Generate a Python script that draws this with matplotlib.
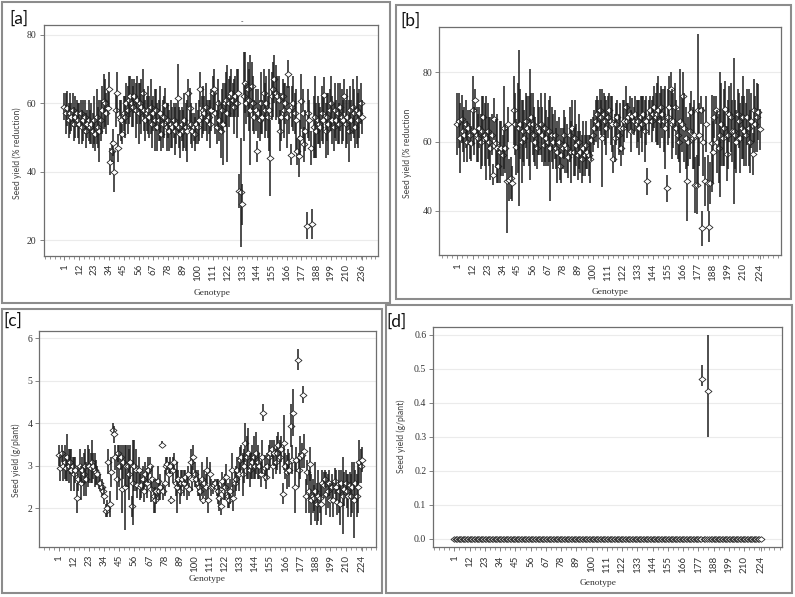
import matplotlib
matplotlib.use('Agg')
import matplotlib.pyplot as plt
from matplotlib.patches import Rectangle
from matplotlib.path import Path
from matplotlib.ticker import MultipleLocator, FormatStrFormatter

# ---------------- data ----------------
tick_labels_a = ['1', '12', '23', '34', '45', '56', '67', '78', '89', '100', '111', '122',
                 '133', '144', '155', '166', '177', '188', '199', '210', '236']
tick_labels_bcd = ['1', '12', '23', '34', '45', '56', '67', '78', '89', '100', '111', '122',
                   '133', '144', '155', '166', '177', '188', '199', '210', '224']

a_mean = [59, 57, 58.5, 55, 57, 56, 58, 54, 56, 57,
          55, 54, 57, 53, 55, 56, 52, 54, 55, 53,
          54, 52, 55, 51, 56, 53, 52, 55, 58, 60.5,
          60, 57, 58.7, 64, 43, 46, 48.5, 40, 58, 63,
          47, 56, 55, 51, 57, 56, 60, 58, 61, 62,
          60, 59, 62, 58, 61, 57, 60, 59, 63, 58,
          55, 57, 58, 56, 59, 54, 57, 55, 58, 53,
          55, 57, 51, 54, 56, 59.5, 53, 55, 52, 54,
          53, 55, 52, 54, 61.5, 53, 51, 54, 52, 55,
          53, 52, 63, 58.5, 54, 52, 53, 51, 54, 53,
          55, 64, 56, 58, 57, 59, 55, 56, 54, 58,
          63, 64, 57, 53, 60, 55, 52, 58, 54, 60,
          61, 57, 60, 62, 63, 61, 59, 62, 60, 63,
          34.5, 34, 30.5, 62, 66, 60, 64, 61, 58, 65,
          60, 56, 58, 46, 57, 55, 60, 56, 63, 58,
          60, 56, 58, 44, 62, 64, 67, 63, 62, 61,
          52, 56, 62, 58, 60, 56, 68.5, 58, 45, 59,
          60, 57, 55, 46, 44.5, 50, 60.5, 57, 48, 52,
          24.3, 57, 55, 47, 24.8, 53, 56, 52, 55, 54,
          53, 57, 55, 62.5, 52, 56, 54, 58, 60, 55,
          53, 58, 55, 57, 54, 59, 56, 55, 62, 54,
          56, 52, 58, 55, 59, 57, 53, 58, 55, 57, 60, 56]
a_err = [4, 6, 5, 5, 6, 4, 5, 5, 6, 4,
         5, 6, 4, 5, 6, 5, 5, 4, 6, 5,
         6, 5, 7, 5, 8, 6, 9, 6, 7, 8,
         7, 6, 5, 5, 4, 3, 4, 6, 5, 6,
         4, 5, 6, 3, 5, 6, 6, 7, 7, 6,
         7, 6, 5, 8, 7, 9, 6, 8, 7, 6,
         6, 5, 7, 6, 8, 7, 5, 9, 6, 7,
         6, 8, 5, 7, 6, 5, 7, 5, 6, 7,
         6, 5, 7, 6, 10, 6, 7, 5, 6, 8,
         7, 9, 4, 6, 6, 5, 4, 5, 6, 5,
         6, 5, 6, 7, 5, 7, 6, 5, 7, 6,
         5, 6, 6, 5, 7, 6, 8, 6, 12, 6,
         8, 14, 7, 6, 7, 5, 8, 6, 10, 7,
         5, 16, 6, 13, 9, 6, 8, 9, 16, 7,
         8, 5, 6, 3, 7, 6, 9, 5, 7, 8,
         8, 6, 12, 11, 7, 8, 7, 8, 6, 7,
         6, 7, 5, 8, 6, 9, 4, 7, 3, 6,
         8, 6, 9, 4, 6, 5, 8, 7, 5, 6,
         4, 7, 6, 5, 4.5, 9, 12, 8, 7, 6,
         6, 8, 7, 5, 8, 7, 9, 6, 8, 7,
         7, 8, 6, 9, 6, 7, 8, 6, 5, 7,
         8, 9, 7, 6, 8, 7, 6, 10, 8, 7, 6, 5]

b_mean = [65, 66, 61, 66.5, 63, 62, 65, 60, 64, 62,
          59.5, 69, 63, 72, 62, 61, 64, 60, 63, 67,
          62, 61, 63, 60, 58, 62, 50.5, 66.5, 59.5, 58,
          53, 57, 58, 56, 64, 58, 48.5, 65, 49, 49.5,
          48, 69, 65, 58.5, 64, 64, 65, 60, 63, 61,
          66, 64, 63, 65, 67, 65, 62, 60, 58, 64,
          63, 65, 62, 59, 64, 61, 60, 63, 58, 62,
          60, 62, 58, 57, 60, 53, 56, 58, 62, 59,
          58, 55.5, 62, 57, 64, 57, 61, 59, 56, 60,
          57, 55, 58, 56, 59, 57, 56, 55, 60.5, 62,
          64, 66, 68, 65, 69, 67, 61, 68, 66, 64,
          67, 69, 66, 65, 55, 61, 65, 67, 62, 64,
          58, 64, 66, 70, 66, 67, 68, 63, 67.5, 66,
          68, 65, 66, 64, 67, 65, 68, 63, 66, 48.5,
          67, 69, 66, 68, 70, 67, 68, 69, 66, 70,
          68, 66, 64, 46.5, 67, 70, 75, 65, 66, 70,
          64, 62, 60, 66, 65, 73, 64, 61, 48.5, 60,
          63, 68.5, 61, 62, 47.5, 47.5, 69, 62, 69, 35,
          60, 48.5, 65, 48, 35.5, 48, 59.5, 57, 67, 69,
          60, 58, 62, 65, 61, 64, 69.5, 56.5, 62, 68,
          67, 63, 63, 62, 60, 68, 66, 61, 64, 67,
          63, 62, 67, 64, 60, 66, 56.5, 69, 65, 67, 68.5, 63.5]
b_err = [9, 8, 10, 7, 6, 8, 7, 6, 5, 7,
         5, 10, 7, 3, 8, 7, 6, 8, 10, 6,
         9, 12, 8, 7, 9, 6, 3, 6, 7, 10,
         5, 9, 8, 6, 12, 7, 15, 5, 6, 6,
         5, 10, 9, 8, 13, 22.5, 10, 12, 9, 8,
         8, 9, 10, 16, 7, 9, 8, 7, 6, 8,
         7, 9, 8, 6, 10, 8, 7, 9, 15, 8,
         8, 7, 6, 9, 7, 4, 8, 6, 7, 8,
         7, 6, 8, 9, 8, 7, 11, 6, 7, 8,
         6, 7, 8, 6, 7, 5, 6, 7, 6, 5,
         5, 6, 5, 7, 6, 5, 14, 6, 7, 8,
         6, 5, 7, 8, 4, 7, 6, 5, 6, 7,
         5, 8, 6, 6, 5, 4, 5, 6, 5, 4,
         5, 7, 6, 8, 6, 8, 5, 9, 7, 4,
         5, 4, 6, 5, 6, 7, 9, 10, 8, 6,
         7, 9, 12, 4, 8, 9, 5, 10, 8, 7,
         8, 7, 6, 15, 8, 7, 10, 9, 11.5, 7,
         8, 6, 9, 10, 8, 8.5, 22, 9, 4, 5,
         10, 7, 8, 8, 4.5, 6, 14, 9, 6, 4,
         9, 10, 18, 12, 8, 11, 8, 8, 10, 8,
         10, 9, 21, 10, 9, 7, 8, 10, 9, 12,
         10, 9, 8, 11, 9, 8, 6, 9, 8, 10, 8, 6]

c_mean = [3.25, 2.95, 3.3, 3.0, 3.1, 2.95, 3.2, 3.0, 3.1, 2.9,
          3.0, 2.8, 2.9, 2.25, 2.7, 3.0, 2.6, 2.9, 2.8, 3.0,
          2.7, 3.0, 3.0, 2.95, 3.1, 3.0, 2.9, 2.85, 2.8, 2.6,
          2.6, 2.5, 2.4, 2.3, 1.95, 2.0, 3.1, 2.1, 2.85, 3.85,
          3.75, 3.2, 2.7, 3.3, 3.0, 3.2, 2.45, 3.1, 2.5, 3.0,
          3.0, 2.8, 3.1, 2.05, 2.6, 3.0, 2.9, 2.55, 2.9, 2.5,
          2.55, 2.7, 2.4, 2.8, 2.6, 2.9, 3.0, 2.45, 2.7, 2.3,
          2.2, 2.4, 2.65, 2.4, 2.5, 3.5, 2.4, 2.6, 3.0, 3.05,
          2.8, 3.0, 2.2, 2.9, 3.1, 2.6, 2.5, 2.7, 2.4, 2.6,
          2.7, 2.6, 2.75, 2.5, 2.8, 2.45, 3.1, 2.7, 3.2, 2.8,
          2.7, 2.6, 2.5, 2.4, 2.7, 2.2, 2.6, 2.5, 2.9, 2.2,
          2.8, 2.5, 2.5, 2.55, 2.6, 2.5, 2.4, 2.25, 2.05, 2.65,
          2.4, 2.5, 2.75, 2.3, 2.2, 2.4, 2.9, 2.25, 2.6, 2.7,
          2.9, 2.8, 3.15, 3.2, 2.8, 3.0, 3.55, 3.2, 3.3, 2.9,
          3.0, 3.1, 3.2, 3.0, 3.3, 3.1, 3.0, 2.8, 3.2, 4.25,
          2.95, 2.75, 3.0, 3.2, 3.3, 3.4, 3.0, 3.3, 3.1, 3.3,
          3.5, 3.2, 3.4, 2.35, 3.55, 3.0, 2.85, 3.1, 2.9, 3.95,
          3.15, 4.25, 2.5, 3.15, 5.5, 2.9, 3.2, 3.25, 4.67, 3.35,
          2.3, 2.85, 2.4, 3.05, 2.2, 2.3, 2.25, 2.4, 2.1, 2.3,
          2.25, 2.1, 2.6, 2.55, 2.7, 2.35, 2.4, 2.6, 2.2, 2.5,
          2.2, 2.65, 2.5, 2.15, 2.4, 2.1, 2.6, 2.3, 2.45, 2.6,
          2.4, 2.3, 2.55, 2.3, 2.5, 2.2, 2.6, 2.3, 2.5, 3.1, 3.0, 3.15]
c_err = [0.25, 0.3, 0.2, 0.35, 0.4, 0.3, 0.55, 0.4, 0.3, 0.5,
         0.2, 0.4, 0.3, 0.35, 0.3, 0.4, 0.4, 0.3, 0.5, 0.4,
         0.4, 0.5, 0.4, 0.35, 0.5, 0.3, 0.4, 0.3, 0.2, 0.15,
         0.2, 0.2, 0.15, 0.2, 0.15, 0.2, 0.3, 0.3, 0.35, 0.15,
         0.2, 0.3, 0.5, 0.2, 0.5, 0.3, 0.55, 0.4, 1.0, 0.5,
         0.5, 0.6, 0.4, 0.25, 1.0, 0.6, 0.5, 0.3, 0.3, 0.3,
         0.3, 0.3, 0.25, 0.3, 0.35, 0.3, 0.2, 0.3, 0.3, 0.4,
         0.3, 0.3, 0.35, 0.2, 0.3, 0.08, 0.2, 0.3, 0.2, 0.15,
         0.3, 0.2, 0.1, 0.3, 0.2, 0.3, 0.6, 0.2, 0.3, 0.3,
         0.2, 0.3, 0.15, 0.3, 0.2, 0.15, 0.3, 0.3, 0.3, 0.3,
         0.2, 0.3, 0.2, 0.2, 0.4, 0.1, 0.3, 0.3, 0.3, 0.3,
         0.3, 0.2, 0.15, 0.1, 0.1, 0.2, 0.3, 0.3, 0.2, 0.2,
         0.2, 0.3, 0.3, 0.3, 0.2, 0.3, 0.4, 0.3, 0.3, 0.3,
         0.3, 0.4, 0.3, 0.3, 0.5, 0.4, 0.45, 0.5, 0.6, 0.4,
         0.3, 0.4, 0.5, 0.3, 0.5, 0.4, 0.3, 0.3, 0.4, 0.2,
         0.3, 0.3, 0.3, 0.3, 0.3, 0.2, 0.3, 0.3, 0.3, 0.4,
         0.3, 0.4, 0.3, 0.25, 0.65, 0.3, 0.4, 0.3, 0.4, 0.5,
         0.35, 0.55, 0.6, 0.3, 0.25, 0.4, 0.5, 0.3, 0.2, 0.4,
         0.4, 0.3, 0.5, 0.4, 0.6, 0.4, 0.3, 0.7, 0.5, 0.6,
         0.35, 0.5, 0.3, 0.3, 0.2, 0.5, 0.4, 0.3, 0.4, 0.3,
         0.4, 0.3, 0.4, 0.3, 0.5, 0.5, 0.3, 0.9, 0.4, 0.3,
         0.4, 0.5, 0.3, 0.5, 0.6, 0.9, 0.3, 0.5, 0.6, 0.5, 0.4, 0.3]

# panel d: every genotype is 0 except two
d_count = 222
d_nz_index = [179, 183]
d_nz_mean = [0.47, 0.433]
d_nz_low = [0.45, 0.30]
d_nz_high = [0.51, 0.60]

assert len(a_mean) == len(a_err) == 222
assert len(b_mean) == len(b_err) == 222
assert len(c_mean) == len(c_err) == 222

# ---------------- figure ----------------
W, H = 795, 597
fig = plt.figure(figsize=(W / 100, H / 100), dpi=100)
fig.patch.set_facecolor('white')

diamond = Path([(-1, 0), (0, 0.8), (1, 0), (0, -0.8), (-1, 0)],
               [Path.MOVETO, Path.LINETO, Path.LINETO, Path.LINETO, Path.CLOSEPOLY])

SPINE = '#6e6e6e'
BAR = '#1e1e1e'


def px_axes(l, t, r, b):
    return fig.add_axes([l / W, 1 - b / H, (r - l) / W, (b - t) / H])


def frame(l, t, r, b):
    fig.add_artist(Rectangle((l / W, 1 - b / H), (r - l) / W, (b - t) / H,
                             transform=fig.transFigure, fill=False,
                             edgecolor='#8c8c8c', linewidth=1.5))


def ftext(x, y, s, **kw):
    fig.text(x / W, 1 - y / H, s, ha='center', va='center', **kw)


def style(ax, xlim, ylim, yticks, yfmt, labels):
    ax.set_xlim(*xlim)
    ax.set_ylim(*ylim)
    for s in ax.spines.values():
        s.set_color(SPINE)
        s.set_linewidth(0.9)
    ax.set_yticks(yticks)
    ax.yaxis.set_major_formatter(FormatStrFormatter(yfmt))
    ax.grid(axis='y', color='#ebebeb', linewidth=0.8, zorder=0)
    ax.set_axisbelow(True)
    pos = [11 * k for k in range(20)] + [221]
    ax.set_xticks(pos)
    ax.set_xticklabels(labels, rotation=90)
    ax.xaxis.set_minor_locator(MultipleLocator(11 / 3))
    ax.tick_params(axis='x', which='major', length=3, width=0.6, color=SPINE, pad=3,
                   labelsize=7, labelcolor='#333333')
    ax.tick_params(axis='x', which='minor', length=2, width=0.5, color=SPINE)
    ax.tick_params(axis='y', length=3, width=0.6, color=SPINE, pad=2,
                   labelsize=7, labelcolor='#333333')
    for lab in ax.get_xticklabels():
        lab.set_fontfamily('Lato')
    for lab in ax.get_yticklabels():
        lab.set_fontfamily('Liberation Serif')


def draw_points(ax, means, lows, highs):
    for i, (m, lo, hi) in enumerate(zip(means, lows, highs)):
        z = 2 + i * 0.002
        if hi > lo:
            ax.plot([i, i], [lo, hi], color=BAR, linewidth=1.1,
                    solid_capstyle='butt', zorder=z)
        ax.plot([i], [m], linestyle='none', marker=diamond, markersize=5,
                markerfacecolor='white', markeredgecolor='#2a2a2a',
                markeredgewidth=0.6, zorder=z + 0.001)


# ---- panel (a)
frame(2, 2, 390, 303)
ax = px_axes(43.5, 25, 378, 255.5)
draw_points(ax, a_mean, [m - e for m, e in zip(a_mean, a_err)],
            [m + e for m, e in zip(a_mean, a_err)])
style(ax, (-15.6, 232.9), (15.6, 82.8), [20, 40, 60, 80], '%d', tick_labels_a)
ftext(19.3, 18.8, '[a]', fontsize=12.5, family='Lato', color='#111111')
ftext(241.7, 21.7, '-', fontsize=5, color='#333333')
ftext(211.7, 293.3, 'Genotype', fontsize=6.8, family='Liberation Serif', color='#333333')
ftext(17.3, 153.3, 'Seed yield (% reduction)', fontsize=6.2, family='Lato',
      color='#444444', rotation=90)

# ---- panel (b)
frame(396, 5, 791, 299)
ax = px_axes(439.3, 26.7, 780.7, 255)
draw_points(ax, b_mean, [m - e for m, e in zip(b_mean, b_err)],
            [m + e for m, e in zip(b_mean, b_err)])
style(ax, (-13.3, 236.5), (27.3, 93.1), [40, 60, 80], '%d', tick_labels_bcd)
ftext(410, 21, '[b]', fontsize=12.5, family='Lato', color='#111111')
ftext(610, 291.7, 'Genotype', fontsize=6.8, family='Liberation Serif', color='#333333')
ftext(407.7, 153.3, 'Seed yield (% reduction', fontsize=6.2, family='Lato',
      color='#444444', rotation=90)

# ---- panel (c)
frame(2, 309, 382, 593)
ax = px_axes(39.3, 330.7, 376, 546.7)
draw_points(ax, c_mean, [m - e for m, e in zip(c_mean, c_err)],
            [m + e for m, e in zip(c_mean, c_err)])
style(ax, (-14.4, 231.2), (1.1, 6.18), [2, 3, 4, 5, 6], '%d', tick_labels_bcd)
ftext(13.3, 321, '[c]', fontsize=12.5, family='Lato', color='#111111')
ftext(207.3, 579.3, 'Genotype', fontsize=6.8, family='Liberation Serif', color='#333333')
ftext(16, 460, 'Seed yield (g/plant)', fontsize=6.2, family='Lato',
      color='#444444', rotation=90)

# ---- panel (d)
frame(386, 305, 792, 593)
ax = px_axes(433.3, 327.3, 781.7, 547.3)
d_mean = [0.0] * d_count
d_low = [0.0] * d_count
d_high = [0.0] * d_count
for k, i in enumerate(d_nz_index):
    d_mean[i] = d_nz_mean[k]
    d_low[i] = d_nz_low[k]
    d_high[i] = d_nz_high[k]
draw_points(ax, d_mean, d_low, d_high)
style(ax, (-15.2, 236.2), (-0.0253, 0.6218), [0.0, 0.1, 0.2, 0.3, 0.4, 0.5, 0.6], '%.1f',
      tick_labels_bcd)
ftext(397, 322, '[d]', fontsize=12.5, family='Lato', color='#111111')
ftext(597.7, 583.3, 'Genotype', fontsize=6.8, family='Liberation Serif', color='#333333')
ftext(401, 436.7, 'Seed yield (g/plant)', fontsize=6.2, family='Lato',
      color='#444444', rotation=90)

fig.savefig('out.png', dpi=100, facecolor='white')
